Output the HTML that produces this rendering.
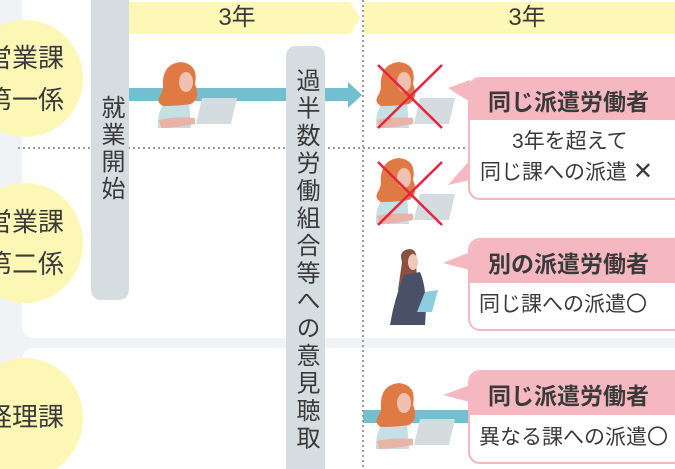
<!DOCTYPE html>
<html><head><meta charset="utf-8"><style>
html,body{margin:0;width:675px;height:469px;overflow:hidden}
body{background:#f0f2f5;position:relative;font-family:"Liberation Sans","Noto Sans CJK JP",sans-serif;color:#3a3a3a}
.abs{position:absolute}
.panel{background:#fff;position:absolute}
.circ{position:absolute;background:#fdf7b6;border-radius:50%}
.ct{position:absolute;font-size:26px;line-height:42px;text-align:center;width:130px;white-space:nowrap}
.bar{position:absolute;background:#d5dde0;border-radius:10px}
.vt{position:absolute;writing-mode:vertical-rl;font-size:24px;text-align:center}
.bub{position:absolute;left:468px;width:230px;border:2px solid #f5b8c0;border-radius:12px;background:#fff;box-sizing:border-box}
.bh{background:#f5b8c0;font-weight:bold;font-size:23px;white-space:nowrap;padding-left:18px;border-radius:10px 10px 0 0}
.bb{font-size:21px;white-space:nowrap}
</style></head><body>
<div class="panel" style="left:22px;top:0;width:653px;height:338px;border-bottom-left-radius:12px"></div>
<div class="panel" style="left:22px;top:348px;width:653px;height:121px;border-top-left-radius:12px"></div>
<div class="circ" style="left:-33px;top:20px;width:116px;height:117px"></div>
<div class="circ" style="left:-33px;top:183px;width:116px;height:120px"></div>
<div class="circ" style="left:-33px;top:358px;width:116px;height:120px"></div>
<div class="ct" style="left:-40px;top:37px">営業課<br>第一係</div>
<div class="ct" style="left:-40px;top:201px">営業課<br>第二係</div>
<div class="ct" style="left:-40px;top:396px">経理課</div>
<svg class="abs" style="left:0;top:0" width="675" height="469">
<polygon points="129,2 350,2 360,18 350,34 129,34" fill="#fdf8b5"/>
<rect x="364" y="2" width="311" height="32" fill="#fdf8b5"/>
<rect x="129" y="88" width="222" height="13" fill="#72bfd0"/>
<polygon points="348,82 362,95 348,108" fill="#72bfd0"/>
<rect x="363" y="410" width="106" height="13" fill="#72bfd0"/>
<line x1="18" y1="148" x2="465" y2="148" stroke="#999" stroke-width="2" stroke-dasharray="2,3"/>
<line x1="363" y1="0" x2="363" y2="469" stroke="#999" stroke-width="2" stroke-dasharray="2,3"/>
<defs><g id="w">
<path d="M10,40 Q20,34 34,38 L36,66 L3,66 Q2,50 10,40Z" fill="#c5e0e5"/>
<path d="M8,26 Q6,2 26,0 Q44,2 40,22 Q46,36 36,42 Q24,44 8,44 Q0,40 6,32Z" fill="#e07a45"/>
<ellipse cx="31" cy="20" rx="7" ry="10" fill="#f0c0b0"/>
<polygon points="47,36 82,36 76,62 41,62" fill="#d5dcdf"/>
<path d="M4,58 Q20,54 40,56 L40,62 Q20,66 6,66Z" fill="#eab3a8"/>
</g></defs>
<use href="#w" x="155" y="62"/>
<use href="#w" x="373" y="62"/>
<use href="#w" x="373" y="158"/>
<use href="#w" x="373" y="383"/>
<line x1="378" y1="65" x2="442" y2="128" stroke="#e8233f" stroke-width="2.5"/>
<line x1="442" y1="65" x2="378" y2="128" stroke="#e8233f" stroke-width="2.5"/>
<line x1="378" y1="162" x2="442" y2="225" stroke="#e8233f" stroke-width="2.5"/>
<line x1="442" y1="162" x2="378" y2="225" stroke="#e8233f" stroke-width="2.5"/>
<path d="M402,262 Q398,250 410,249 Q418,250 416,262 L418,300 L398,290Z" fill="#8b5040"/>
<ellipse cx="413" cy="262" rx="5" ry="8" fill="#f0c8b8"/>
<path d="M404,275 L420,272 Q428,290 425,325 L390,325 Q394,300 404,275Z" fill="#4a5068"/>
<polygon points="425,292 438,290 432,312 417,312" fill="#8ccde0"/>
<polygon points="448,88 470,80 470,102" fill="#f5b8c0"/>
<polygon points="448,185 470,160 470,180" fill="#f5b8c0"/>
<polygon points="443,263 470,252 470,270" fill="#f5b8c0"/>
<polygon points="443,395 470,385 470,402" fill="#f5b8c0"/>
</svg>
<div class="abs" style="left:195px;top:3px;width:84px;text-align:center;font-size:24px;line-height:30px">3年</div>
<div class="abs" style="left:485px;top:3px;width:84px;text-align:center;font-size:24px;line-height:30px">3年</div>
<div class="bar" style="left:91px;top:-10px;width:38px;height:310px"></div>
<div class="vt" style="left:95px;top:95px;line-height:30px;letter-spacing:3px">就業開始</div>
<div class="bar" style="left:286px;top:46px;width:39px;height:440px"></div>
<div class="vt" style="left:290px;top:68px;line-height:30px;letter-spacing:3.5px">過半数労働組合等への意見聴取</div>
<div class="bub" style="top:77px;height:123px"><div class="bh" style="height:41px;line-height:46px">同じ派遣労働者</div><div class="bb" style="line-height:30px;padding-top:7px;padding-left:10px"><div style="padding-left:32px">3年を超えて</div>同じ課への派遣 <span style="font-size:24px">✕</span></div></div>
<div class="bub" style="top:238px;height:93px"><div class="bh" style="height:43px;line-height:48px">別の派遣労働者</div><div class="bb" style="line-height:44px;padding-left:9px">同じ課への派遣〇</div></div>
<div class="bub" style="top:370px;height:94px"><div class="bh" style="height:43px;line-height:48px">同じ派遣労働者</div><div class="bb" style="line-height:46px;padding-left:9px">異なる課への派遣〇</div></div>
</body></html>
